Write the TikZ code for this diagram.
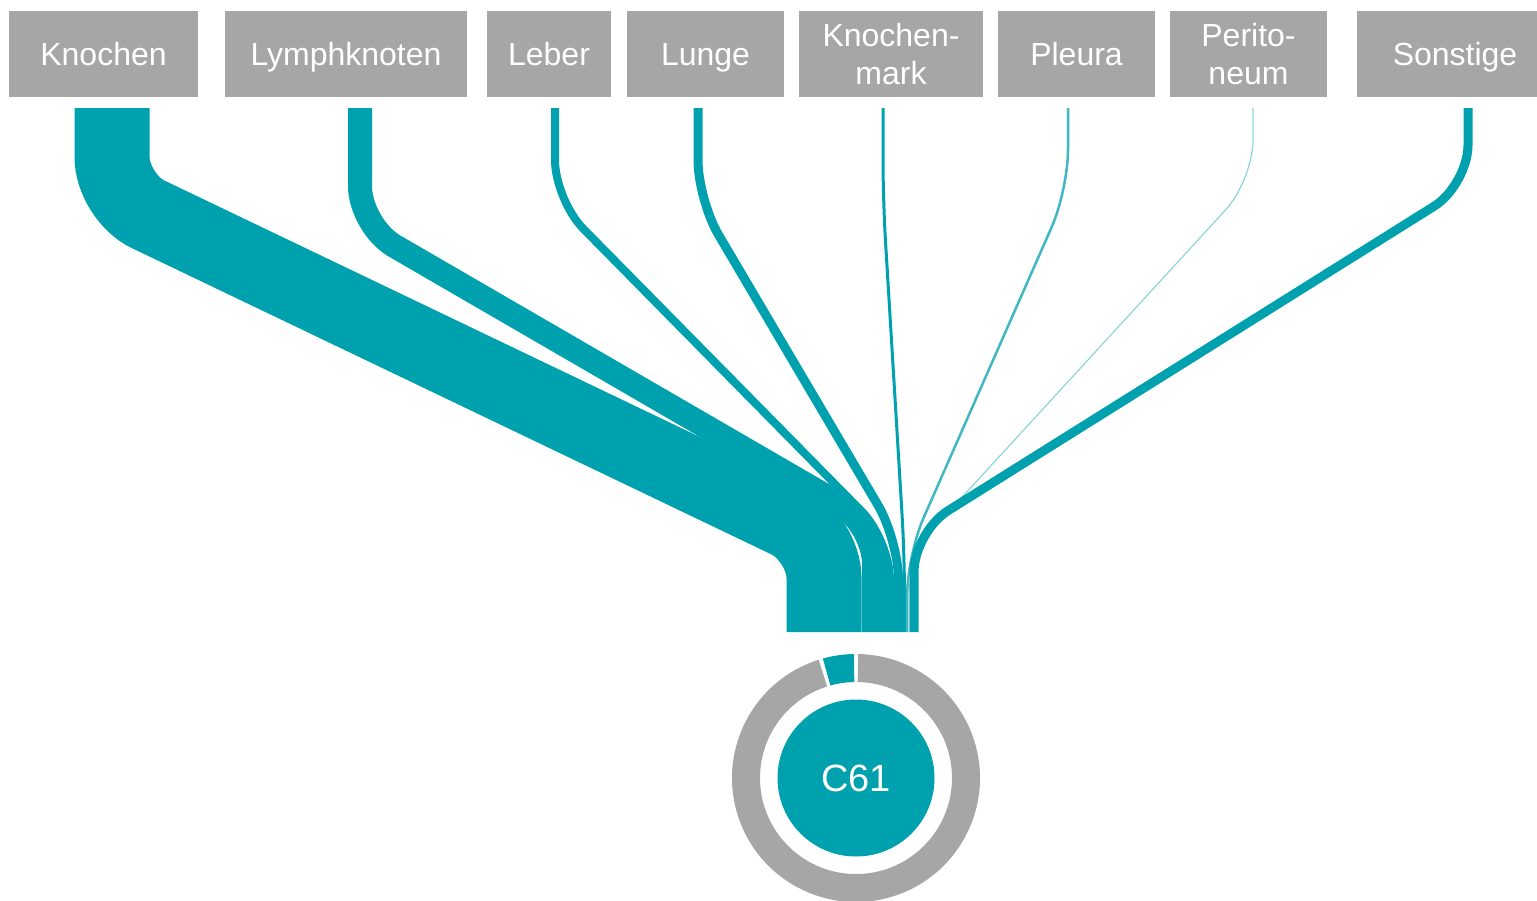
\documentclass[tikz,border=0pt]{standalone}
\usepackage{fontspec}
\setmainfont{Liberation Sans}
\definecolor{flowteal}{RGB}{0,161,175}
\definecolor{sitegrey}{RGB}{166,166,166}
\tikzset{%
	site/.style    = {fill=sitegrey, text=white, minimum height=86pt, inner sep=0pt, align=center, font=\fontsize{32}{38}\selectfont},
	oneline/.style = {text height=22.5pt, text depth=0pt},
	flow/.style    = {draw=flowteal, rounded corners=40pt, line cap=butt},
	ring/.style    = {fill=sitegrey},
}

\begin{document}
\begin{tikzpicture}[x=1pt,y=-1pt]
		\useasboundingbox (0,0) rectangle (1537,900);
		
		% metastasis sites
		\node[site, oneline, minimum width=189pt] (knochen) at (103.5,54) {Knochen};
		\node[site, oneline, minimum width=242pt] (lymph) at (346,54) {Lymphknoten};
		\node[site, oneline, minimum width=124pt] (leber) at (549,54) {Leber};
		\node[site, oneline, minimum width=157pt] (lunge) at (705.5,54) {Lunge};
		\node[site, minimum width=184pt] (kmark) at (891,54) {Knochen-\\mark};
		\node[site, oneline, minimum width=157pt] (pleura) at (1076.5,54) {Pleura};
		\node[site, minimum width=157pt] (perit) at (1248.5,54) {Perito-\\neum};
		\node[site, oneline, minimum width=196pt] (sonst) at (1455,54) {Sonstige};
		
		% flows into C61
		\foreach \n/\xa/\ya/\xb/\yb/\w/\c in {knochen/112/197/824/538/75/flowteal, lymph/360/226/874/524/24/flowteal, leber/555/200/890/540/8/flowteal, lunge/698/200/898.5/540/9/flowteal, kmark/883/200/904.5/555/3/flowteal, pleura/1068/190/907.2/555/2.5/flowteal!75, perit/1253/180/909/555/1.2/flowteal!45, sonst/1468/185/914/532/9/flowteal} {
			\coordinate (\n-out) at (\xa,108);
			\coordinate (\n-in) at (\xb,632);
			\draw[flow, line width=\w pt, draw=\c] (\n-out) -- (\xa,\ya) -- (\xb,\yb) -- (\n-in);
		}
		
		% C61 with ring
		\node[circle, fill=flowteal, minimum size=157pt, inner sep=0pt, text=white, font=\fontsize{38}{44}\selectfont] (c61) at (856,778) {C61};
		\begin{scope}[shift={(c61.center)}]
			\fill[ring] (-107.5:124) arc[start angle=-107.5, end angle=-449, radius=124] -- (-449:96) arc[start angle=-449, end angle=-107.5, radius=96] -- cycle;
			\fill[flowteal] (-91:124) arc[start angle=-91, end angle=-105.5, radius=124] -- (-105.5:96) arc[start angle=-105.5, end angle=-91, radius=96] -- cycle;
		\end{scope}
\end{tikzpicture}
\end{document}
